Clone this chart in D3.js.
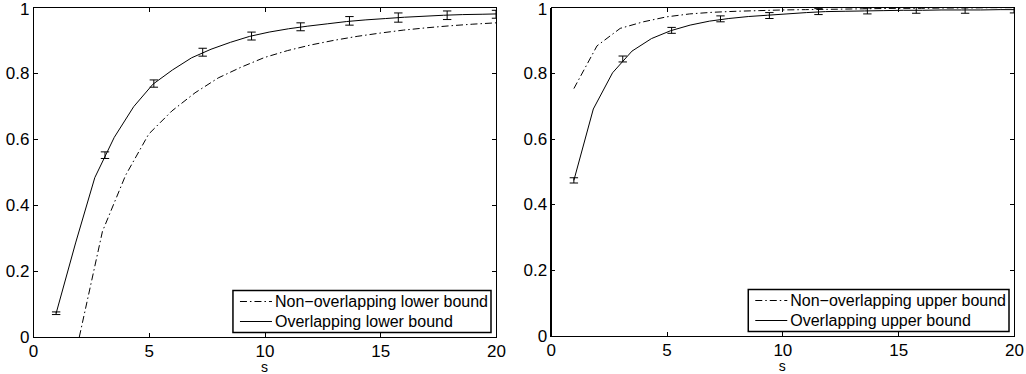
<!DOCTYPE html>
<html>
<head>
<meta charset="utf-8">
<script src="https://cdn.jsdelivr.net/npm/d3@7"></script>
<style>
    body { margin: 0; background: #fff; }
    svg { display: block; font-family: "Liberation Sans", Arial, sans-serif; }
    .axis text { font-size: 17px; fill: #000; }
    .axis line, .axis path { stroke: #000; shape-rendering: crispEdges; }
</style>
</head>
<body>
<div id="chart"></div>
<script>

// s values where the overlapping curves are sampled
var sGrid = [1, 1.84, 2.67, 3.51, 4.35, 5.18, 6.02, 6.85, 7.69, 8.53, 9.36, 10.2,
    11.04, 11.87, 12.71, 13.55, 14.38, 15.22, 16.05, 16.89, 17.73, 18.56, 19.4, 20];

var lowerOverlap = [0.072, 0.285, 0.483, 0.605, 0.698, 0.766, 0.809, 0.846, 0.872, 0.893, 0.911, 0.924,
    0.934, 0.942, 0.949, 0.956, 0.961, 0.965, 0.969, 0.972, 0.975, 0.977, 0.978, 0.979];

var upperOverlap = [0.473, 0.69, 0.80, 0.866, 0.904, 0.928, 0.945, 0.957, 0.965, 0.971, 0.975, 0.979,
    0.983, 0.986, 0.987, 0.988, 0.989, 0.99, 0.99, 0.991, 0.991, 0.991, 0.992, 0.992];

// non-overlapping bounds, integer s
var sLowerNon = [2, 3, 4, 5, 6, 7, 8, 9, 10, 11, 12, 13, 14, 15, 16, 17, 18, 19, 20];
var lowerNonOverlap = [0, 0.32, 0.49, 0.615, 0.685, 0.74, 0.785, 0.818, 0.847, 0.868, 0.885,
    0.899, 0.911, 0.921, 0.93, 0.937, 0.943, 0.948, 0.952];

var sUpperNon = [1, 2, 3, 4, 5, 6, 7, 8, 9, 10, 11, 12, 13, 14, 15, 16, 17, 18, 19, 20];
var upperNonOverlap = [0.752, 0.882, 0.935, 0.955, 0.970, 0.979, 0.984, 0.987, 0.989, 0.991,
    0.992, 0.993, 0.994, 0.995, 0.996, 0.996, 0.997, 0.997, 0.998, 0.998];

// error bars
var sErr = [1, 3.11, 5.22, 7.33, 9.44, 11.56, 13.67, 15.78, 17.89, 20];
var lowerErrMean = [0.072, 0.551, 0.768, 0.863, 0.912, 0.940, 0.958, 0.968, 0.975, 0.978];
var lowerErrHalf = [0.004, 0.010, 0.011, 0.012, 0.012, 0.012, 0.013, 0.014, 0.013, 0.012];
var upperErrMean = [0.473, 0.842, 0.929, 0.964, 0.974, 0.986, 0.988, 0.99, 0.99, 0.991];
var upperErrHalf = [0.008, 0.009, 0.009, 0.009, 0.009, 0.009, 0.009, 0.009, 0.009, 0.009];

var xTicks = [0, 5, 10, 15, 20];
var yTicks = [0, 0.2, 0.4, 0.6, 0.8, 1];
var xLabel = "s";

var svgRoot = d3.select("#chart").append("svg")
    .attr("width", 1026)
    .attr("height", 374);

function zip(xs, ys) {
    return xs.map(function (d, i) {
        return {s: d, v: ys[i]};
    });
}


function BoundPanel(options) {

    var _self = this;

    var margin = _self.margin = options.margin;
    var width = _self.width = options.width;
    var height = _self.height = options.height;

    var x = _self.x = d3.scaleLinear().domain([0, 20]).range([0, width]);
    var y = _self.y = d3.scaleLinear().domain([0, 1]).range([height, 0]);

    var svg = _self.svg = svgRoot.append("g")
        .attr("transform", "translate(" + margin.left + "," + margin.top + ")");

    svg.append("clipPath")
        .attr("id", options.id + "-clip")
        .append("rect")
        .attr("width", width)
        .attr("height", height);

    _self.plot = svg.append("g")
        .attr("clip-path", "url(#" + options.id + "-clip)");

    // MATLAB style box: inward ticks on all four sides
    svg.append("g")
        .attr("class", "x axis")
        .attr("transform", "translate(0," + height + ")")
        .call(d3.axisBottom(x).tickValues(xTicks).tickSizeInner(-4.5).tickSizeOuter(0).tickPadding(7.5))
        .select(".domain").style("stroke-width", 1.6);

    svg.append("g")
        .attr("class", "x axis")
        .call(d3.axisTop(x).tickValues(xTicks).tickSizeInner(-4.5).tickSizeOuter(0).tickFormat(""))
        .select(".domain").style("stroke-width", 1);

    var yAxisG = svg.append("g")
        .attr("class", "y axis")
        .call(d3.axisLeft(y).tickValues(yTicks).tickSizeInner(-4.5).tickSizeOuter(0).tickPadding(3.5)
            .tickFormat(function (d) { return String(d); }));

    yAxisG.select(".domain").style("stroke-width", 1.6);

    // top label sits a little lower so it stays inside the figure
    yAxisG.selectAll(".tick text")
        .filter(function (d) { return d === 1; })
        .attr("y", 2.5);

    svg.append("g")
        .attr("class", "y axis")
        .attr("transform", "translate(" + width + ",0)")
        .call(d3.axisRight(y).tickValues(yTicks).tickSizeInner(-4.5).tickSizeOuter(0).tickFormat(""))
        .select(".domain").style("stroke-width", 1);

    svg.selectAll(".axis .tick line").style("stroke-width", 1);

    svg.append("text")
        .attr("x", x(10))
        .attr("y", height + 35)
        .style("font-size", "14px")
        .style("text-anchor", "middle")
        .text(xLabel);
}

BoundPanel.prototype.draw = function (series) {

    var _self = this;

    var line = d3.line()
        .x(function (d) { return _self.x(d.s); })
        .y(function (d) { return _self.y(d.v); });

    _self.plot.append("path")
        .datum(series.nonOverlap)
        .attr("d", line)
        .style("fill", "none")
        .style("stroke", "#000")
        .style("stroke-width", 1)
        .style("stroke-dasharray", "7,3,1.5,3");

    _self.plot.append("path")
        .datum(series.overlap)
        .attr("d", line)
        .style("fill", "none")
        .style("stroke", "#000")
        .style("stroke-width", 1);

    var bars = _self.plot.selectAll(".errbar")
        .data(series.errors)
        .enter()
        .append("g")
        .attr("class", "errbar")
        .style("stroke", "#000")
        .style("stroke-width", 1);

    bars.append("line")
        .attr("x1", function (d) { return _self.x(d.s); })
        .attr("x2", function (d) { return _self.x(d.s); })
        .attr("y1", function (d) { return _self.y(d.v - d.h); })
        .attr("y2", function (d) { return _self.y(d.v + d.h); });

    [-1, 1].forEach(function (sign) {
        bars.append("line")
            .attr("x1", function (d) { return _self.x(d.s) - 4.2; })
            .attr("x2", function (d) { return _self.x(d.s) + 4.2; })
            .attr("y1", function (d) { return _self.y(d.v + sign * d.h); })
            .attr("y2", function (d) { return _self.y(d.v + sign * d.h); });
    });

    // legend, anchored to bottom right corner of the axes
    var legend = _self.svg.append("g");

    var box = legend.append("rect")
        .style("fill", "#fff")
        .style("stroke", "#000")
        .style("stroke-width", 1.5);

    var rows = legend.selectAll(".row")
        .data(series.labels)
        .enter()
        .append("g")
        .attr("class", "row")
        .attr("transform", function (d, i) { return "translate(0," + (11 + i * 20) + ")"; });

    rows.append("line")
        .attr("x1", 7)
        .attr("x2", 39)
        .style("stroke", "#000")
        .style("stroke-width", 1)
        .style("stroke-dasharray", function (d, i) { return i === 0 ? "7,3,1.5,3" : null; });

    var texts = rows.append("text")
        .attr("x", 42)
        .attr("dy", "0.36em")
        .style("font-size", "16px")
        .text(function (d) { return d; });

    var textW = d3.max(texts.nodes(), function (n) { return n.getComputedTextLength(); });
    var boxW = 42 + textW + 3;
    var boxH = 42;

    box.attr("width", boxW).attr("height", boxH);

    legend.attr("transform", "translate(" + (_self.width - 5 - boxW) + "," + (_self.height - 4.5 - boxH) + ")");
};


var lowerPanel = new BoundPanel({id: "lower", margin: {left: 33, top: 7}, width: 463, height: 330});
lowerPanel.draw({
    overlap: zip(sGrid, lowerOverlap),
    nonOverlap: zip(sLowerNon, lowerNonOverlap),
    errors: sErr.map(function (d, i) { return {s: d, v: lowerErrMean[i], h: lowerErrHalf[i]}; }),
    labels: ["Non\u2212overlapping lower bound", "Overlapping lower bound"]
});

var upperPanel = new BoundPanel({id: "upper", margin: {left: 550.7, top: 7}, width: 463.3, height: 329});
upperPanel.draw({
    overlap: zip(sGrid, upperOverlap),
    nonOverlap: zip(sUpperNon, upperNonOverlap),
    errors: sErr.map(function (d, i) { return {s: d, v: upperErrMean[i], h: upperErrHalf[i]}; }),
    labels: ["Non\u2212overlapping upper bound", "Overlapping upper bound"]
});

</script>
</body>
</html>
